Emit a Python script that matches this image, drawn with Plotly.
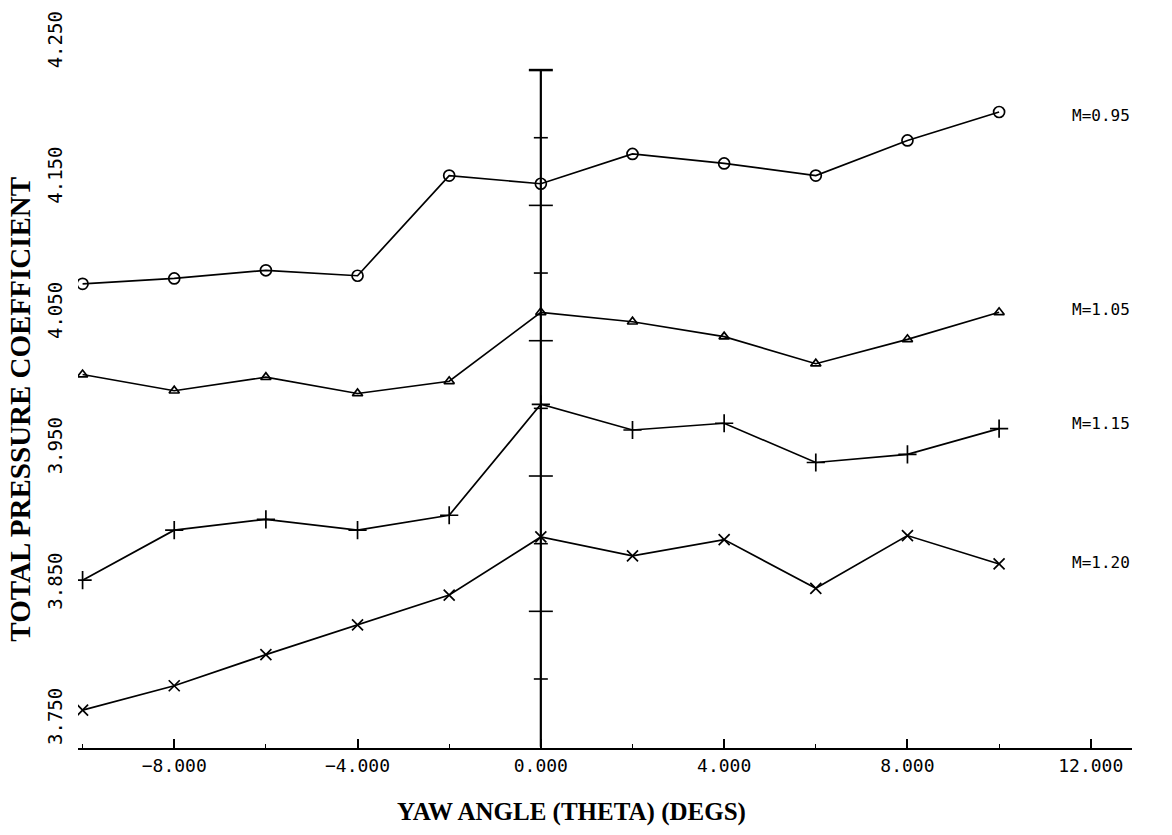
import plotly.graph_objects as go

# Yaw sweep (degrees)
yaw = [-10, -8, -6, -4, -2, 0, 2, 4, 6, 8, 10]

# Total pressure coefficient for each Mach number
cp_m095 = [4.092, 4.096, 4.102, 4.098, 4.172, 4.166, 4.188, 4.181, 4.172, 4.198, 4.219]
cp_m105 = [4.025, 4.013, 4.023, 4.011, 4.020, 4.071, 4.064, 4.053, 4.033, 4.051, 4.071]
cp_m115 = [3.873, 3.910, 3.918, 3.910, 3.921, 4.003, 3.984, 3.989, 3.960, 3.966, 3.985]
cp_m120 = [3.777, 3.795, 3.818, 3.840, 3.862, 3.905, 3.891, 3.903, 3.867, 3.906, 3.885]

series_names = ["M=0.95", "M=1.05", "M=1.15", "M=1.20"]
series_values = [cp_m095, cp_m105, cp_m115, cp_m120]
series_symbols = ["circle-open", "triangle-up-open", "cross-thin-open", "x-thin-open"]
series_sizes = [11, 9, 13, 11]
label_shift = [-3, 3, 5, 1]

# Vertical axis labels and the reference line ticks at yaw = 0
y_ticks = [3.75, 3.85, 3.95, 4.05, 4.15, 4.25]
y_major_marks = [3.85, 3.95, 4.05, 4.15]
y_minor_marks = [3.80, 3.90, 4.00, 4.10, 4.20]

MONO = "DejaVu Sans Mono"
SERIF = "Liberation Serif"
INK = "black"

fig = go.Figure()

for name, vals, sym, sz in zip(series_names, series_values, series_symbols, series_sizes):
    fig.add_trace(go.Scatter(
        x=yaw, y=vals, mode="lines+markers", name=name,
        line=dict(color=INK, width=1.7),
        marker=dict(symbol=sym, size=sz, color=INK, line=dict(color=INK, width=1.7)),
        showlegend=False,
    ))

shapes = []
# reference line at zero yaw with a cap at the top
shapes.append(dict(type="line", xref="x", yref="y", x0=0, x1=0, y0=y_ticks[0], y1=y_ticks[-1],
                   line=dict(color=INK, width=2.2)))
shapes.append(dict(type="line", xref="x", yref="y", xsizemode="pixel", xanchor=0,
                   x0=-12, x1=12, y0=y_ticks[-1], y1=y_ticks[-1], line=dict(color=INK, width=2.5)))
for v in y_major_marks:
    shapes.append(dict(type="line", xref="x", yref="y", xsizemode="pixel", xanchor=0,
                       x0=-12, x1=12, y0=v, y1=v, line=dict(color=INK, width=1.6)))
for v in y_minor_marks:
    shapes.append(dict(type="line", xref="x", yref="y", xsizemode="pixel", xanchor=0,
                       x0=-7, x1=7, y0=v, y1=v, line=dict(color=INK, width=1.6)))

annotations = []
for v in y_ticks:
    annotations.append(dict(
        xref="paper", yref="y", x=-0.022, y=v, text=f"{v:.3f}", showarrow=False,
        textangle=-90, xanchor="center", yanchor="bottom",
        font=dict(family=MONO, size=19, color=INK),
    ))

for name, vals, sh in zip(series_names, series_values, label_shift):
    annotations.append(dict(
        xref="x", yref="y", x=11.55, y=vals[-1], text=name, showarrow=False,
        xanchor="left", yanchor="middle", yshift=sh,
        font=dict(family=MONO, size=16, color=INK),
    ))

annotations.append(dict(
    xref="paper", yref="paper", x=-0.055, y=0.48, text="<b>TOTAL PRESSURE COEFFICIENT</b>",
    showarrow=False, textangle=-90, xanchor="center", yanchor="middle",
    font=dict(family=SERIF, size=29, color=INK),
))
annotations.append(dict(
    xref="paper", yref="paper", x=0.468, y=-0.068, text="<b>YAW ANGLE (THETA) (DEGS)</b>",
    showarrow=False, xanchor="center", yanchor="top",
    font=dict(family=SERIF, size=25, color=INK),
))

fig.update_layout(
    width=1172, height=835,
    margin=dict(l=78, r=40, t=43, b=87),
    paper_bgcolor="white", plot_bgcolor="white",
    shapes=shapes, annotations=annotations,
    xaxis=dict(
        range=[-10.1, 12.9], tick0=0, dtick=4, tickformat=".3f",
        showgrid=False, zeroline=False, showline=True, linecolor=INK, linewidth=2.2,
        ticks="inside", ticklen=9, tickwidth=1.6, tickcolor=INK,
        minor=dict(dtick=2, ticks="inside", ticklen=4, tickwidth=1.4, tickcolor=INK, showgrid=False),
        tickfont=dict(family=MONO, size=18, color=INK),
    ),
    yaxis=dict(
        range=[3.749, 4.27], showgrid=False, zeroline=False, showline=False,
        showticklabels=False, ticks="",
    ),
)

fig.write_html("out.html")
